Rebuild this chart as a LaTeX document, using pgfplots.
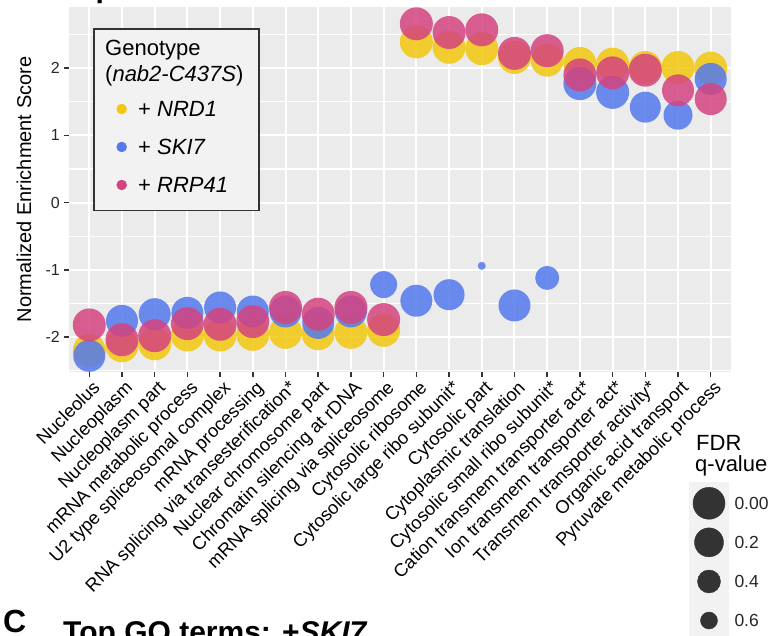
\documentclass[border=0pt]{standalone}
\usepackage{pgfplots}
\usepackage{pgfplotstable}
\pgfplotsset{compat=1.18}
\usepackage{fontspec}
\setmainfont{Liberation Sans}
\definecolor{panelgray}{HTML}{EBEBEB}
\definecolor{keygray}{HTML}{F2F2F2}
\definecolor{ycol}{HTML}{F2C70F}
\definecolor{bcol}{HTML}{5479EE}
\definecolor{pcol}{HTML}{D4437F}
\definecolor{dark}{HTML}{333333}

\pgfplotstableread{
x y r
0 -2.20 16.5
1 -2.13 16.5
2 -2.10 16.5
3 -1.97 16.5
4 -1.97 16.5
5 -1.96 16.5
6 -1.93 16.5
7 -1.95 16.5
8 -1.93 16.5
9 -1.90 16.5
10 2.39 16.5
11 2.31 16.5
12 2.29 16.5
13 2.16 16.5
14 2.12 16.5
15 2.07 16.5
16 2.06 16.5
17 2.01 16.5
18 2.01 16.5
19 2.00 16.5
}\nrd

\pgfplotstableread{
x y r
0 -2.28 16
1 -1.76 16
2 -1.66 16
3 -1.64 16
4 -1.56 16
5 -1.62 16
6 -1.62 16
7 -1.79 16
8 -1.62 16
9 -1.22 13.5
10 -1.46 16
11 -1.37 15.5
12 -0.94 4
13 -1.53 16
14 -1.12 12
15 1.77 16.5
16 1.64 16.5
17 1.42 15.5
18 1.30 14.5
19 1.84 16
}\skis

\pgfplotstableread{
x y r
0 -1.82 16.5
1 -2.04 16.5
2 -1.98 16.5
3 -1.80 16.5
4 -1.81 16.5
5 -1.77 16.5
6 -1.56 16.5
7 -1.66 16.5
8 -1.56 16.5
9 -1.74 16.5
10 2.66 16.5
11 2.53 16.5
12 2.57 16.5
13 2.22 16.5
14 2.26 16.5
15 1.90 16.5
16 1.93 16.5
17 1.97 16.5
18 1.67 16
19 1.54 16
}\rrp

\pgfplotsset{
  bubble/.style={only marks, mark=*, scatter, forget plot,
    mark options={draw opacity=0, line width=0pt},
    scatter/use mapped color={draw=#1, draw opacity=0, line width=0pt, fill=#1, fill opacity=0.85},
    visualization depends on={\thisrow{r} \as \rad},
    scatter/@pre marker code/.append style={/tikz/mark size=\rad}},
}

\begin{document}
\begin{tikzpicture}
\path[use as bounding box] (-69pt,-264pt) rectangle (707pt,372pt);

\begin{axis}[
  at={(0pt,0pt)}, anchor=south west, scale only axis,
  width=662pt, height=365pt,
  xmin=-0.62, xmax=19.62, ymin=-2.52, ymax=2.91,
  clip=false,
  axis background/.style={fill=panelgray},
  axis line style={draw=none},
  tick pos=left, tick align=outside,
  major tick length=5pt, minor tick length=0pt,
  major tick style={draw=dark, line width=1.5pt},
  xtick={0,...,19},
  xticklabels={Nucleolus, Nucleoplasm, Nucleoplasm part, mRNA metabolic process,
    U2 type spliceosomal complex, mRNA processing,
    RNA splicing via transesterification*, Nuclear chromosome part,
    Chromatin silencing at rDNA, mRNA splicing via spliceosome,
    Cytosolic ribosome, Cytosolic large ribo subunit*, Cytosolic part,
    Cytoplasmic translation, Cytosolic small ribo subunit*,
    Cation transmem transporter act*, Ion transmem transporter act*,
    Transmem transporter activity*, Organic acid transport,
    Pyruvate metabolic process},
  ytick={-2,-1,0,1,2}, yticklabels={-2,-1,0,1,2},
  minor ytick={-2.5,-1.5,-0.5,0.5,1.5,2.5},
  grid=both,
  major grid style={draw=white, line width=2pt},
  minor grid style={draw=white, line width=1.1pt},
  x tick label style={rotate=45, anchor=north east, inner sep=0pt,
    font=\fontsize{18.3}{20}\selectfont, text=black, yshift=-3pt},
  y tick label style={inner sep=0pt, font=\fontsize{16}{18}\selectfont,
    text=black!85, xshift=-4pt},
  ylabel={Normalized Enrichment Score},
  every axis y label/.style={at={(rel axis cs:0,0.5)}, xshift=-45pt,
    rotate=90, anchor=center, font=\fontsize{20}{22}\selectfont},
]
\addplot[bubble=ycol] table[x=x, y=y] {\nrd};
\addplot[bubble=bcol] table[x=x, y=y] {\skis};
\addplot[bubble=pcol] table[x=x, y=y] {\rrp};
\end{axis}

% genotype legend box
\draw[fill=keygray, draw=dark, line width=1.5pt] (25pt,161.3pt) rectangle (190pt,343pt);
\node[anchor=base west, inner sep=0pt, font=\fontsize{22}{24}\selectfont] at (36pt,316pt) {Genotype};
\node[anchor=base west, inner sep=0pt, font=\fontsize{22}{24}\selectfont] at (36pt,290.3pt) {(\textit{nab2-C437S})};

\begin{axis}[
  at={(47.7pt,168pt)}, anchor=south west, scale only axis,
  width=10pt, height=114pt,
  xmin=-1, xmax=1, ymin=-0.5, ymax=2.5, y dir=reverse,
  axis line style={draw=none}, xtick=\empty,
  ytick={0,1,2},
  yticklabels={+ \textit{NRD1}, + \textit{SKI7}, + \textit{RRP41}},
  yticklabel pos=right, major tick length=0pt, tick style={draw=none},
  y tick label style={anchor=west, inner sep=0pt, xshift=11.3pt,
    font=\fontsize{22}{24}\selectfont, text=black},
  clip=false,
]
\addplot[only marks, mark=*, mark size=5pt, mark options={draw=ycol, fill=ycol}] coordinates {(0,0)};
\addplot[only marks, mark=*, mark size=5pt, mark options={draw=bcol, fill=bcol}] coordinates {(0,1)};
\addplot[only marks, mark=*, mark size=5pt, mark options={draw=pcol, fill=pcol}] coordinates {(0,2)};
\end{axis}

% FDR size legend
\node[anchor=base west, inner sep=0pt, font=\fontsize{22}{24}\selectfont] at (627pt,-79pt) {FDR};
\node[anchor=base west, inner sep=0pt, font=\fontsize{22}{24}\selectfont] at (626pt,-100pt) {q-value};

\begin{axis}[
  at={(620pt,-272pt)}, anchor=south west, scale only axis,
  width=40pt, height=162.3pt,
  xmin=-1, xmax=1, ymin=-0.552, ymax=3.6, y dir=reverse,
  axis background/.style={fill=keygray},
  axis line style={draw=none}, xtick=\empty,
  ytick={0,1,2,3}, yticklabels={0.00,0.2,0.4,0.6},
  yticklabel pos=right, major tick length=0pt, tick style={draw=none},
  y tick label style={anchor=west, inner sep=0pt, xshift=5.3pt,
    font=\fontsize{17.5}{19}\selectfont, text=black!85},
  clip=false,
]
\addplot[only marks, mark=*, mark size=16pt, mark options={draw=dark, fill=dark}] coordinates {(0,0)};
\addplot[only marks, mark=*, mark size=14.5pt, mark options={draw=dark, fill=dark}] coordinates {(0,1)};
\addplot[only marks, mark=*, mark size=11.5pt, mark options={draw=dark, fill=dark}] coordinates {(0,2)};
\addplot[only marks, mark=*, mark size=8.5pt, mark options={draw=dark, fill=dark}] coordinates {(0,3)};
\end{axis}

% panel titles (cropped at the page edges)
\node[anchor=base west, inner sep=0pt, font=\bfseries\fontsize{30}{32}\selectfont] at (-8pt,374.3pt) {Top GO terms};
\node[anchor=base west, inner sep=0pt, font=\bfseries\fontsize{32}{34}\selectfont] at (-66pt,-261pt) {C};
\node[anchor=base west, inner sep=0pt, font=\bfseries\fontsize{30}{32}\selectfont] at (-6pt,-271pt) {Top GO terms: +\textit{SKI7}};
\end{tikzpicture}
\end{document}
